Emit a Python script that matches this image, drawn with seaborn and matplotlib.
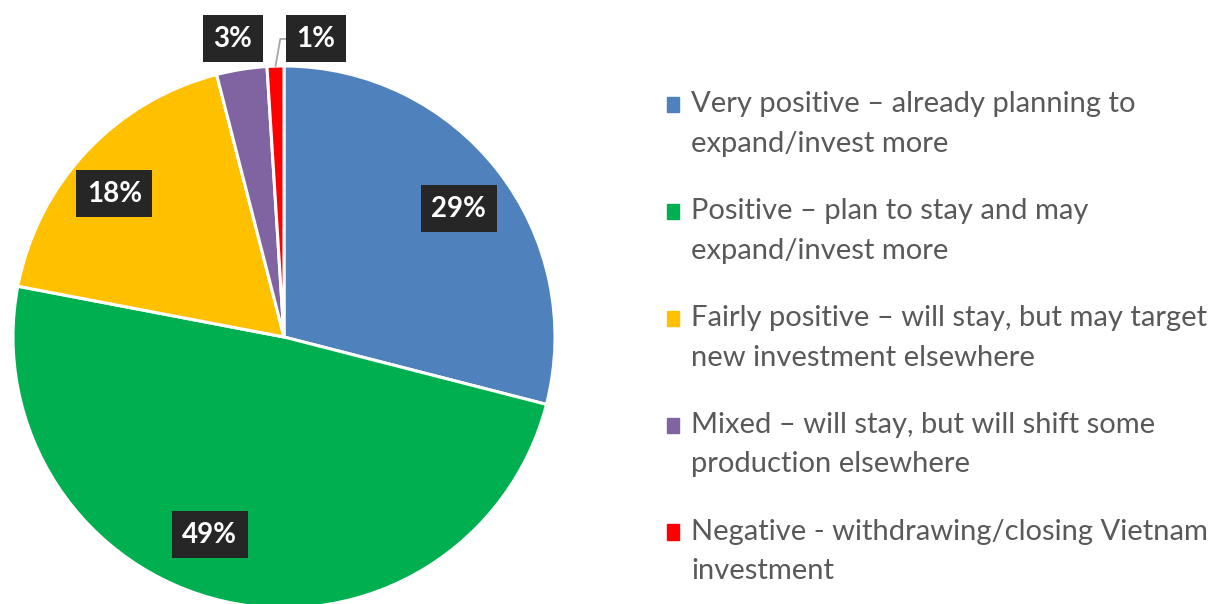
import numpy as np
import matplotlib
import matplotlib.pyplot as plt
import seaborn as sns
from matplotlib.legend_handler import HandlerPatch

matplotlib.use('Agg')

categories = [
    "Very positive \u2013 already planning to\nexpand/invest more",
    "Positive \u2013 plan to stay and may\nexpand/invest more",
    "Fairly positive \u2013 will stay, but may target\nnew investment elsewhere",
    "Mixed \u2013 will stay, but will shift some\nproduction elsewhere",
    "Negative - withdrawing/closing Vietnam\ninvestment",
]
shares = [29, 49, 18, 3, 1]
pct_labels = ["29%", "49%", "18%", "3%", "1%"]
colors = ["#4F81BD", "#00B050", "#FFC000", "#8064A2", "#FF0000"]

sns.set_style("white")
plt.rcParams['font.family'] = ['Lato', 'DejaVu Sans']

fig = plt.figure(figsize=(12.16, 6.04), dpi=100)
r_px = 271
cx, cy = 284, 604 - 337
ax = fig.add_axes([(cx - r_px) / 1216, (cy - r_px) / 604, 2 * r_px / 1216, 2 * r_px / 604])

wedges, _ = ax.pie(shares, colors=colors, startangle=90, counterclock=False,
                   wedgeprops=dict(edgecolor="white", linewidth=2.2))
ax.set_xlim(-1, 1)
ax.set_ylim(-1, 1)
ax.set_aspect('equal')

box = dict(boxstyle="square,pad=0.38", facecolor="#262626", edgecolor="none")
txt_kw = dict(color="white", fontsize=20, fontweight="bold", ha="center", va="center", bbox=box)

# label positions inside the big wedges (radius fraction, angle offset)
inside = {0: (0.80, -1.5), 1: (0.78, -8.0), 2: (0.82, 3.0)}
for i, w in enumerate(wedges):
    mid = np.deg2rad((w.theta1 + w.theta2) / 2)
    if i in inside:
        r, off = inside[i]
        a = mid + np.deg2rad(off)
        ax.text(r * np.cos(a), r * np.sin(a), pct_labels[i], **txt_kw)

# small slices: labels outside
ax.text(-0.19, 1.10, pct_labels[3], **txt_kw)
m4 = np.deg2rad((wedges[4].theta1 + wedges[4].theta2) / 2)
ax.annotate(pct_labels[4], xy=(np.cos(m4), np.sin(m4)), xytext=(0.118, 1.10),
            arrowprops=dict(arrowstyle="-", color="#A6A6A6", lw=1.3,
                            connectionstyle="angle,angleA=0,angleB=80,rad=0",
                            shrinkA=0, shrinkB=0),
            **txt_kw)


def top_square(legend, orig_handle, xdescent, ydescent, width, height, fontsize):
    # put the marker next to the first line of the two-line label
    return plt.Rectangle((-xdescent, -ydescent + 0.68 * fontsize), width, height)


handles = [plt.Rectangle((0, 0), 1, 1, color=c) for c in colors]
leg = fig.legend(handles, categories, loc="upper left", bbox_to_anchor=(0.539, 0.868),
                 frameon=False, fontsize=21, handlelength=0.42, handleheight=0.42,
                 handletextpad=0.4, labelspacing=1.43, borderaxespad=0,
                 handler_map={plt.Rectangle: HandlerPatch(patch_func=top_square)})
for t in leg.get_texts():
    t.set_color("#595959")
    t.set_linespacing(1.63)

fig.savefig("out.png", dpi=100)
